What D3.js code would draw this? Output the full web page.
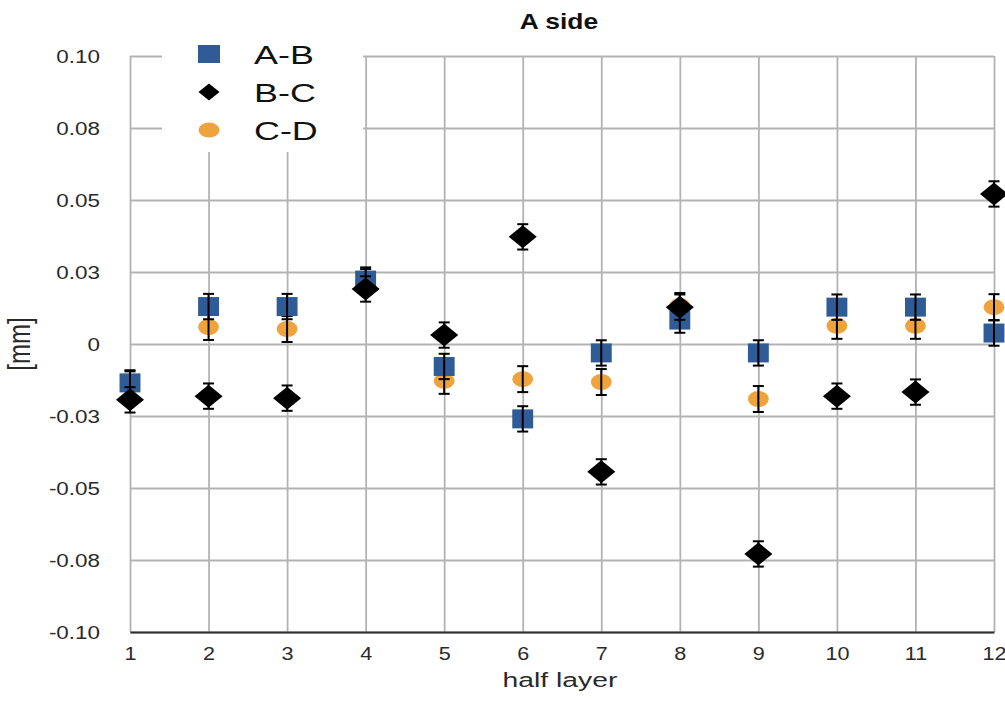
<!DOCTYPE html>
<html>
<head>
<meta charset="utf-8">
<script src="https://cdn.jsdelivr.net/npm/d3@7"></script>
<style>
  html, body { margin: 0; padding: 0; background: #fff; }
  svg { display: block; font-family: "Liberation Sans", Arial, Helvetica, sans-serif; }
</style>
</head>
<body>
<svg id="chart" width="1005" height="701"></svg>
<script>
// ---- data -------------------------------------------------------------
const halfLayers = [1, 2, 3, 4, 5, 6, 7, 8, 9, 10, 11, 12];
const xTickLabels = ["1", "2", "3", "4", "5", "6", "7", "8", "9", "10", "11", "12"];

const abValues = [-0.0135, 0.0130, 0.0130, 0.0222, -0.0078, -0.0260, -0.0031, 0.0083, -0.0031, 0.0128, 0.0128, 0.0038];
const abErrors = [0.0044, 0.0044, 0.0044, 0.0044, 0.0044, 0.0044, 0.0044, 0.0044, 0.0044, 0.0044, 0.0044, 0.0044];

const bcValues = [-0.0194, -0.0181, -0.0188, 0.0191, 0.0031, 0.0372, -0.0444, 0.0128, -0.0729, -0.0181, -0.0167, 0.0521];
const bcErrors = [0.0044, 0.0044, 0.0044, 0.0044, 0.0044, 0.0044, 0.0044, 0.0044, 0.0044, 0.0044, 0.0044, 0.0044];

const cdValues = [-0.0140, 0.0059, 0.0052, 0.0215, -0.0128, -0.0122, -0.0132, 0.0132, -0.0191, 0.0063, 0.0063, 0.0128];
const cdErrors = [0.0045, 0.0045, 0.0045, 0.0045, 0.0045, 0.0045, 0.0045, 0.0045, 0.0045, 0.0045, 0.0045, 0.0045];

const seriesNames = ["A-B", "B-C", "C-D"];
const yTickValues = [-0.1, -0.075, -0.05, -0.025, 0, 0.025, 0.05, 0.075, 0.1];
const yTickLabels = ["-0.10", "-0.08", "-0.05", "-0.03", "0", "0.03", "0.05", "0.08", "0.10"];

const chartTitle = "A side";
const xTitle = "half layer";
const yTitle = "[mm]";

// ---- layout & style ---------------------------------------------------
const plot = { left: 130, right: 994, top: 56, bottom: 632 };
const gridColor = "#b3b3b3";
const textColor = "#2a2a2a";

const style = {
  "A-B": { color: "#2f5b96", shape: "square" },
  "B-C": { color: "#000000", shape: "diamond" },
  "C-D": { color: "#eea33c", shape: "circle" }
};

// stretch text horizontally to a given factor of its natural width
function widen(sel, k) {
  sel.each(function () {
    const w = this.getComputedTextLength();
    d3.select(this).attr("textLength", w * k).attr("lengthAdjust", "spacingAndGlyphs");
  });
}

const svg = d3.select("#chart");

const x = d3.scaleLinear().domain([1, 12]).range([plot.left, plot.right]);
const y = d3.scaleLinear().domain([-0.1, 0.1]).range([plot.bottom, plot.top]);

// ---- horizontal grid + y tick labels ----------------------------------
const gy = svg.append("g")
  .attr("transform", `translate(${plot.left},0)`)
  .call(d3.axisLeft(y)
    .tickValues(yTickValues)
    .tickFormat((d, i) => yTickLabels[i])
    .tickSize(-(plot.right - plot.left))
    .tickPadding(30));
gy.select(".domain").remove();
gy.selectAll(".tick line").attr("stroke", gridColor).attr("stroke-width", 1.8);
gy.selectAll(".tick text")
  .attr("font-size", 19)
  .attr("fill", textColor)
  .attr("font-family", null)
  .call(widen, 1.18);

// ---- vertical grid + x tick labels ------------------------------------
const gx = svg.append("g")
  .attr("transform", `translate(0,${plot.bottom})`)
  .call(d3.axisBottom(x)
    .tickValues(halfLayers)
    .tickFormat((d, i) => xTickLabels[i])
    .tickSize(-(plot.bottom - plot.top))
    .tickSizeOuter(0)
    .tickPadding(15));
gx.selectAll(".tick line").attr("stroke", gridColor).attr("stroke-width", 1.8);
gx.select(".domain").attr("stroke", "#303030").attr("stroke-width", 2.2).raise();
gx.selectAll(".tick text")
  .attr("font-size", 18)
  .attr("fill", textColor)
  .attr("font-family", null)
  .call(widen, 1.2);

// ---- titles -----------------------------------------------------------
svg.append("text")
  .attr("x", (plot.left + plot.right) / 2 - 3)
  .attr("y", 29)
  .attr("text-anchor", "middle")
  .attr("font-size", 22)
  .attr("font-weight", "bold")
  .attr("fill", "#111")
  .text(chartTitle)
  .call(widen, 1.2);

svg.append("text")
  .attr("x", (plot.left + plot.right) / 2 - 2)
  .attr("y", 687)
  .attr("text-anchor", "middle")
  .attr("font-size", 20.5)
  .attr("fill", textColor)
  .text(xTitle)
  .call(widen, 1.38);

svg.append("text")
  .attr("transform", `translate(30,${y(0)}) scale(1.28,1) rotate(-90)`)
  .attr("text-anchor", "middle")
  .attr("font-size", 24)
  .attr("fill", textColor)
  .text(yTitle);

// ---- legend -----------------------------------------------------------
const legend = svg.append("g");
legend.append("rect")
  .attr("x", 162).attr("y", 28)
  .attr("width", 201).attr("height", 124)
  .attr("fill", "#fff");

const legendSymbols = {
  square: { path: d3.symbol(d3.symbolSquare, 18 * 18)(), tf: "scale(1.22,1)" },
  diamond: { path: d3.symbol(d3.symbolSquare, 2 * 8.5 * 8.5)(), tf: "scale(1.24,1) rotate(45)" },
  circle: { path: d3.symbol(d3.symbolCircle, Math.PI * 7.5 * 7.5)(), tf: "scale(1.4,1)" }
};
const legendRowY = d3.scalePoint().domain(seriesNames).range([54, 130]);

const rows = legend.selectAll("g.row").data(seriesNames).join("g")
  .attr("class", "row")
  .attr("transform", d => `translate(0,${legendRowY(d)})`);
rows.append("path")
  .attr("d", d => legendSymbols[style[d].shape].path)
  .attr("transform", d => `translate(209,0) ${legendSymbols[style[d].shape].tf}`)
  .attr("fill", d => style[d].color);
rows.append("text")
  .attr("x", 254)
  .attr("y", 10)
  .attr("font-size", 26)
  .attr("fill", "#111")
  .text(d => d)
  .call(widen, 1.38);

// ---- series -----------------------------------------------------------
const markerSymbols = {
  square: { path: d3.symbol(d3.symbolSquare, 19 * 19)(), tf: "scale(1.1,1)" },
  diamond: { path: d3.symbol(d3.symbolSquare, 2 * 11.5 * 11.5)(), tf: "scale(1.22,1) rotate(45)" },
  circle: { path: d3.symbol(d3.symbolCircle, Math.PI * 8 * 8)(), tf: "scale(1.3,1)" }
};

const seriesData = {
  "A-B": halfLayers.map((h, i) => ({ h, v: abValues[i], e: abErrors[i] })),
  "B-C": halfLayers.map((h, i) => ({ h, v: bcValues[i], e: bcErrors[i] })),
  "C-D": halfLayers.map((h, i) => ({ h, v: cdValues[i], e: cdErrors[i] }))
};

// drawing order: C-D underneath, then A-B, then B-C on top
const drawOrder = ["C-D", "A-B", "B-C"];
const capHalf = 5.5;

drawOrder.forEach(name => {
  const g = svg.append("g").attr("class", "series");
  const pts = seriesData[name];
  const sym = markerSymbols[style[name].shape];

  g.selectAll("path.marker").data(pts).join("path")
    .attr("class", "marker")
    .attr("d", sym.path)
    .attr("transform", d => `translate(${x(d.h)},${y(d.v)}) ${sym.tf}`)
    .attr("fill", style[name].color);

  const eb = g.selectAll("g.err").data(pts).join("g")
    .attr("class", "err")
    .attr("stroke", "#000")
    .attr("stroke-width", 2);
  eb.append("line")
    .attr("x1", d => x(d.h)).attr("x2", d => x(d.h))
    .attr("y1", d => y(d.v + d.e)).attr("y2", d => y(d.v - d.e));
  eb.append("line")
    .attr("x1", d => x(d.h) - capHalf).attr("x2", d => x(d.h) + capHalf)
    .attr("y1", d => y(d.v + d.e)).attr("y2", d => y(d.v + d.e));
  eb.append("line")
    .attr("x1", d => x(d.h) - capHalf).attr("x2", d => x(d.h) + capHalf)
    .attr("y1", d => y(d.v - d.e)).attr("y2", d => y(d.v - d.e));
});
</script>
</body>
</html>
